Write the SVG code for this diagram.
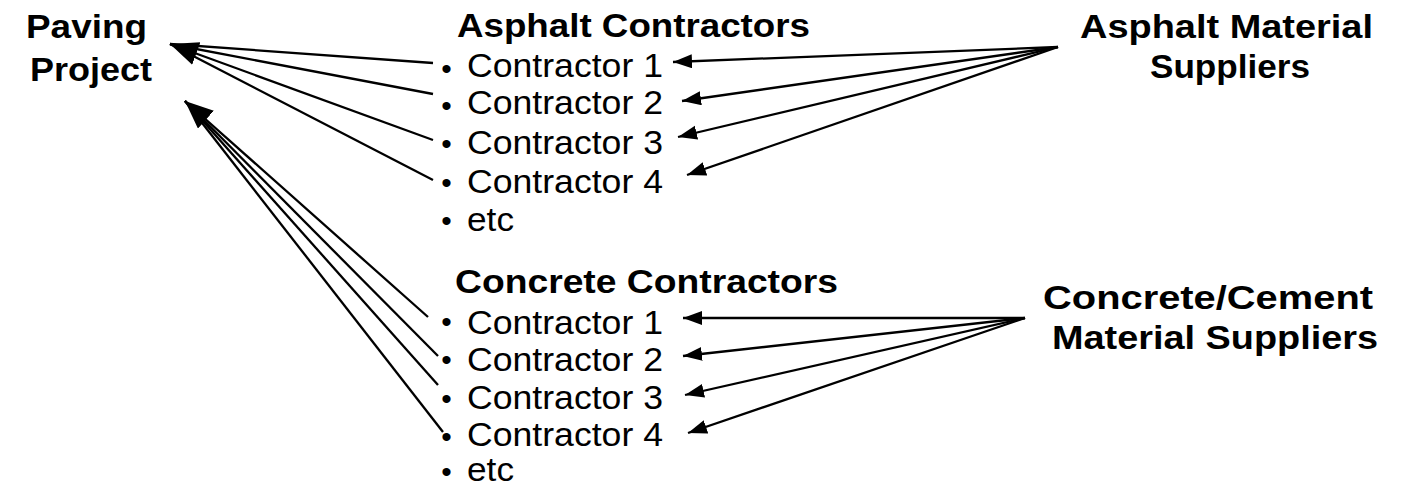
<svg xmlns="http://www.w3.org/2000/svg" width="1401" height="487" viewBox="0 0 1401 487">
<style>
  text { font-family: "Liberation Sans", Arial, sans-serif; fill: #000; }
  .h { font-size: 34px; font-weight: bold; }
  .t { font-size: 33px; }
  .b { font-size: 30px; text-anchor: middle; }
  .c { stroke: #000; stroke-width: 2.3; fill: none; }
</style>
<defs>
  <marker id="big" markerUnits="userSpaceOnUse" markerWidth="30" markerHeight="26" refX="28" refY="12" orient="auto">
    <path d="M0,0 L28,12 L0,24 z" fill="#000"/>
  </marker>
  <marker id="small" markerUnits="userSpaceOnUse" markerWidth="21" markerHeight="16" refX="19" refY="7" orient="auto">
    <path d="M0,0 L19,7 L0,14 z" fill="#000"/>
  </marker>
</defs>
<g id="connectors">
  <line class="c" x1="433" y1="63" x2="170" y2="44"/>
  <line class="c" x1="433" y1="94" x2="170" y2="44"/>
  <line class="c" x1="433" y1="140" x2="170" y2="44" marker-end="url(#big)"/>
  <line class="c" x1="433" y1="180" x2="170" y2="44"/>
  <line class="c" x1="428" y1="317" x2="185" y2="101" marker-end="url(#big)"/>
  <line class="c" x1="438" y1="356" x2="185" y2="101"/>
  <line class="c" x1="438" y1="385" x2="185" y2="101"/>
  <line class="c" x1="443" y1="432" x2="185" y2="101"/>
  <line class="c" x1="1058" y1="47" x2="673" y2="62" marker-end="url(#small)"/>
  <line class="c" x1="1058" y1="47" x2="682" y2="101" marker-end="url(#small)"/>
  <line class="c" x1="1058" y1="47" x2="678" y2="137" marker-end="url(#small)"/>
  <line class="c" x1="1058" y1="47" x2="687" y2="175" marker-end="url(#small)"/>
  <line class="c" x1="1025" y1="318" x2="683" y2="318" marker-end="url(#small)"/>
  <line class="c" x1="1025" y1="318" x2="683" y2="356" marker-end="url(#small)"/>
  <line class="c" x1="1025" y1="318" x2="685" y2="395" marker-end="url(#small)"/>
  <line class="c" x1="1025" y1="318" x2="688" y2="433" marker-end="url(#small)"/>
</g>
<g id="paving-project">
  <text class="h" x="26" y="38" textLength="121" lengthAdjust="spacingAndGlyphs">Paving</text>
  <text class="h" x="30" y="81" textLength="122" lengthAdjust="spacingAndGlyphs">Project</text>
</g>
<g id="asphalt-contractors">
  <text class="h" x="457" y="37" textLength="353" lengthAdjust="spacingAndGlyphs">Asphalt Contractors</text>
  <text class="b" x="446.5" y="79">•</text>
  <text class="t" x="467" y="77" textLength="196" lengthAdjust="spacingAndGlyphs">Contractor 1</text>
  <text class="b" x="446.5" y="116">•</text>
  <text class="t" x="467" y="114" textLength="196" lengthAdjust="spacingAndGlyphs">Contractor 2</text>
  <text class="b" x="446.5" y="154">•</text>
  <text class="t" x="467" y="154" textLength="196" lengthAdjust="spacingAndGlyphs">Contractor 3</text>
  <text class="b" x="446.5" y="193">•</text>
  <text class="t" x="467" y="193" textLength="196" lengthAdjust="spacingAndGlyphs">Contractor 4</text>
  <text class="b" x="446.5" y="231">•</text>
  <text class="t" x="467" y="231" textLength="47" lengthAdjust="spacingAndGlyphs">etc</text>
</g>
<g id="concrete-contractors">
  <text class="h" x="455" y="293" textLength="383" lengthAdjust="spacingAndGlyphs">Concrete Contractors</text>
  <text class="b" x="446.5" y="332">•</text>
  <text class="t" x="467" y="334" textLength="196" lengthAdjust="spacingAndGlyphs">Contractor 1</text>
  <text class="b" x="446.5" y="370">•</text>
  <text class="t" x="467" y="371" textLength="196" lengthAdjust="spacingAndGlyphs">Contractor 2</text>
  <text class="b" x="446.5" y="409">•</text>
  <text class="t" x="467" y="409" textLength="196" lengthAdjust="spacingAndGlyphs">Contractor 3</text>
  <text class="b" x="446.5" y="447">•</text>
  <text class="t" x="467" y="446" textLength="196" lengthAdjust="spacingAndGlyphs">Contractor 4</text>
  <text class="b" x="446.5" y="482">•</text>
  <text class="t" x="467" y="481" textLength="47" lengthAdjust="spacingAndGlyphs">etc</text>
</g>
<g id="asphalt-suppliers">
  <text class="h" x="1080" y="38" textLength="293" lengthAdjust="spacingAndGlyphs">Asphalt Material</text>
  <text class="h" x="1150" y="78" textLength="160" lengthAdjust="spacingAndGlyphs">Suppliers</text>
</g>
<g id="concrete-suppliers">
  <text class="h" x="1043" y="309" textLength="330" lengthAdjust="spacingAndGlyphs">Concrete/Cement</text>
  <text class="h" x="1052" y="349" textLength="326" lengthAdjust="spacingAndGlyphs">Material Suppliers</text>
</g>
</svg>
